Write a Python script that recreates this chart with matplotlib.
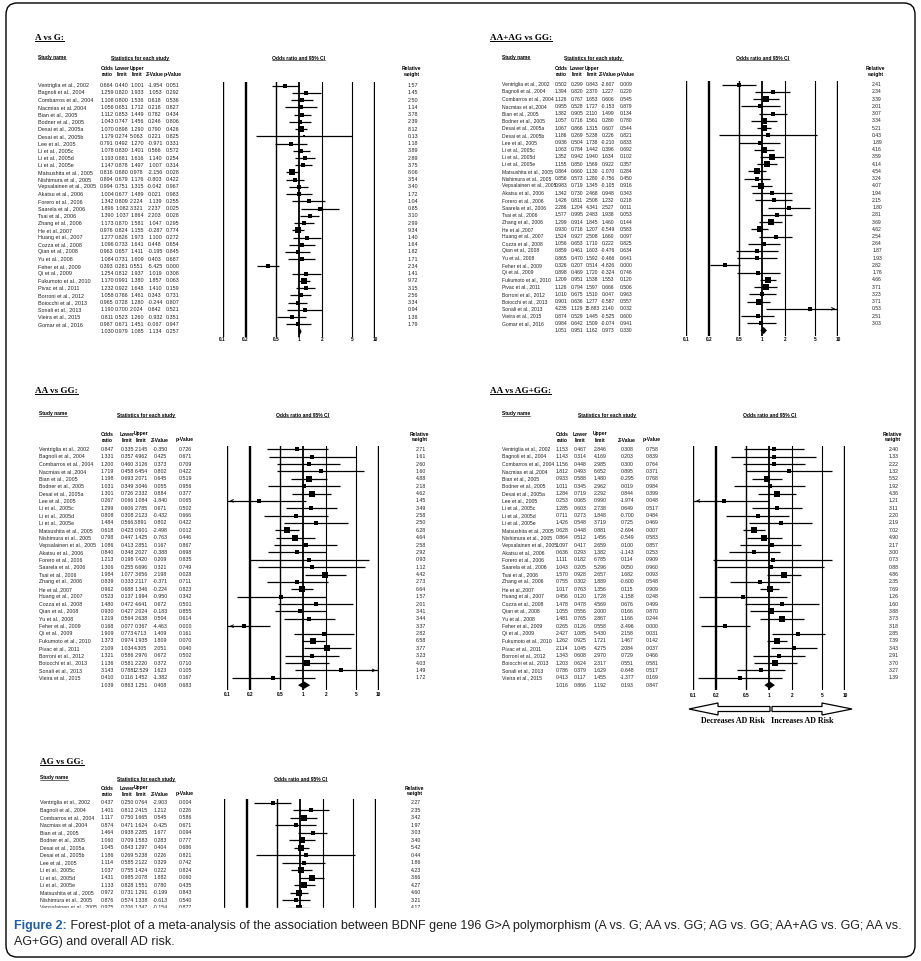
import numpy as np
import matplotlib.pyplot as plt
from matplotlib.patches import FancyBboxPatch, Polygon
from matplotlib.lines import Line2D
from matplotlib.transforms import blended_transform_factory

plt.rcParams['font.family'] = ['Liberation Sans', 'DejaVu Sans']

W, H = 921, 961

# ---- data ----
all_names = ["Ventriglia et al., 2002", "Bagnoli et al., 2004", "Combarros et al., 2004",
             "Nacmias et al.,2004", "Bian et al., 2005", "Bodner et al., 2005",
             "Desai et al., 2005a", "Desai et al., 2005b", "Lee et al., 2005",
             "Li et al., 2005c", "Li et al., 2005d", "Li et al., 2005e",
             "Matsushita et al., 2005", "Nishimura et al., 2005", "Vepsalainen et al., 2005",
             "Akatsu et al., 2006", "Forero et al., 2006", "Saarela et al., 2006",
             "Tsai et al., 2006", "Zhang et al., 2006", "He et al.,2007",
             "Huang et al., 2007", "Cozza et al., 2008", "Qian et al., 2008",
             "Yu et al., 2008", "Feher et al., 2009", "Qi et al., 2009",
             "Fukumoto et al., 2010", "Pivac et al., 2011", "Borroni et al., 2012",
             "Boiocchi et al., 2013", "Sonali et al., 2013", "Vieira et al., 2015",
             "Gomar et al., 2016"]
names_32 = [s for s in all_names if s not in ("Desai et al., 2005b", "Gomar et al., 2016")]
names_ag = all_names[:15]

# A vs G
a_or = [0.664, 1.259, 1.108, 1.056, 1.112, 1.043, 1.070, 1.179, 0.791, 1.078, 1.193, 1.147,
        0.816, 0.894, 0.994, 1.004, 1.342, 1.896, 1.390, 1.173, 0.976, 1.277, 1.096, 0.963,
        1.084, 0.393, 1.254, 1.170, 1.232, 1.058, 0.965, 1.190, 0.811, 0.987]
a_lo = [0.440, 0.820, 0.800, 0.651, 0.853, 0.747, 0.898, 0.274, 0.492, 0.830, 0.881, 0.878,
        0.680, 0.679, 0.751, 0.677, 0.809, 1.082, 1.037, 0.870, 0.824, 0.826, 0.733, 0.657,
        0.731, 0.281, 0.812, 0.991, 0.922, 0.766, 0.728, 0.700, 0.523, 0.671]
a_hi = [1.001, 1.933, 1.536, 1.712, 1.449, 1.456, 1.290, 5.063, 1.270, 1.401, 1.616, 1.497,
        0.978, 1.176, 1.315, 1.489, 2.224, 3.321, 1.864, 1.581, 1.155, 1.973, 1.641, 1.411,
        1.609, 0.551, 1.937, 1.380, 1.648, 1.461, 1.280, 2.024, 1.260, 1.451]
a_z = [-1.954, 1.053, 0.618, 0.218, 0.782, 0.246, 0.790, 0.221, -0.971, 0.566, 1.140, 1.007,
       -2.156, -0.803, -0.042, 0.021, 1.139, 2.237, 2.203, 1.047, -0.287, 1.100, 0.448, -0.195,
       0.403, -5.425, 1.019, 1.857, 1.410, 0.343, -0.244, 0.642, -0.932, -0.067]
a_p = [0.051, 0.292, 0.536, 0.827, 0.434, 0.806, 0.426, 0.825, 0.331, 0.572, 0.254, 0.314,
       0.028, 0.422, 0.967, 0.983, 0.255, 0.025, 0.028, 0.295, 0.774, 0.272, 0.654, 0.845,
       0.687, 0.000, 0.308, 0.063, 0.159, 0.731, 0.807, 0.521, 0.351, 0.947]
a_w = [1.57, 1.45, 2.50, 1.14, 3.78, 2.39, 8.12, 0.13, 1.18, 3.89, 2.89, 3.75, 8.06, 3.54,
       3.40, 1.72, 1.04, 0.85, 3.10, 2.99, 9.34, 1.40, 1.64, 1.82, 1.71, 2.34, 1.41, 9.72,
       3.15, 2.56, 3.34, 0.94, 1.38, 1.79]
a_sum = [1.030, 0.979, 1.085, 1.134, 0.257]

# AA+AG vs GG
dom_or = [0.502, 1.394, 1.126, 0.955, 1.382, 1.057, 1.067, 1.186, 0.936, 1.063, 1.352, 1.155,
          0.864, 0.856, 0.983, 1.342, 1.426, 2.286, 1.577, 1.299, 0.930, 1.524, 1.056, 0.859,
          0.865, 0.326, 0.898, 1.209, 1.126, 1.010, 0.901, 4.235, 0.874, 0.984]
dom_lo = [0.299, 0.820, 0.767, 0.528, 0.905, 0.716, 0.866, 0.269, 0.504, 0.784, 0.942, 0.850,
          0.660, 0.573, 0.719, 0.730, 0.811, 1.204, 0.995, 0.914, 0.716, 0.927, 0.653, 0.461,
          0.470, 0.207, 0.469, 0.951, 0.794, 0.675, 0.636, 1.129, 0.529, 0.642]
dom_hi = [0.843, 2.370, 1.653, 1.727, 2.110, 1.561, 1.315, 5.238, 1.738, 1.442, 1.940, 1.569,
          1.130, 1.280, 1.345, 2.468, 2.508, 4.341, 2.483, 1.845, 1.207, 2.508, 1.710, 1.603,
          1.592, 0.514, 1.720, 1.538, 1.597, 1.510, 1.277, 15.883, 1.445, 1.509]
dom_z = [-2.607, 1.227, 0.606, -0.153, 1.499, 0.280, 0.607, 0.226, -0.210, 0.396, 1.634, 0.922,
         -1.070, -0.756, -0.105, 0.948, 1.232, 2.527, 1.938, 1.460, -0.549, 1.660, 0.222, -0.476,
         -0.466, -4.826, -0.324, 1.553, 0.666, 0.047, -0.587, 2.140, -0.525, -0.074]
dom_p = [0.009, 0.220, 0.545, 0.879, 0.134, 0.780, 0.544, 0.821, 0.833, 0.692, 0.102, 0.357,
         0.284, 0.450, 0.916, 0.343, 0.218, 0.011, 0.053, 0.144, 0.583, 0.097, 0.825, 0.634,
         0.641, 0.000, 0.746, 0.120, 0.506, 0.963, 0.557, 0.032, 0.600, 0.941]
dom_w = [2.41, 2.34, 3.39, 2.01, 3.07, 3.34, 5.21, 0.43, 1.89, 4.16, 3.59, 4.14, 4.54, 3.24,
         4.07, 1.94, 2.15, 1.80, 2.81, 3.69, 4.62, 2.54, 2.64, 1.87, 1.93, 2.82, 1.76, 4.66,
         3.71, 3.23, 3.71, 0.53, 2.51, 3.03]
dom_sum = [1.051, 0.951, 1.162, 0.973, 0.330]

# AA vs GG
hom_or = [0.847, 1.331, 1.200, 1.719, 1.198, 1.031, 1.301, 0.267, 1.299, 0.808, 1.484, 0.618,
          0.798, 1.086, 0.840, 1.213, 1.306, 1.984, 0.839, 0.962, 0.523, 1.480, 0.930, 1.219,
          0.168, 1.909, 1.373, 2.109, 1.321, 1.136, 3.143, 0.410]
hom_lo = [0.335, 0.357, 0.460, 0.458, 0.693, 0.349, 0.726, 0.066, 0.606, 0.308, 0.566, 0.423,
          0.447, 0.413, 0.348, 0.198, 0.255, 1.077, 0.333, 0.688, 0.137, 0.472, 0.427, 0.564,
          0.077, 0.773, 0.974, 1.034, 0.586, 0.581, 0.788, 0.116]
hom_hi = [2.145, 4.962, 3.126, 6.454, 2.071, 3.046, 2.332, 1.084, 2.785, 2.123, 3.891, 0.901,
          1.425, 2.851, 2.027, 7.420, 6.696, 3.656, 2.117, 1.346, 1.994, 4.641, 2.024, 2.638,
          0.367, 4.713, 1.935, 4.305, 2.976, 2.220, 12.529, 1.452]
hom_z = [-0.350, 0.425, 0.373, 0.802, 0.645, 0.055, 0.884, -1.840, 0.671, -0.432, 0.802, -2.498,
         -0.763, 0.167, -0.388, 0.209, 0.321, 2.198, -0.371, -0.224, -0.950, 0.672, -0.183, 0.504,
         -4.463, 1.409, 1.809, 2.051, 0.672, 0.372, 1.623, -1.382]
hom_p = [0.726, 0.671, 0.709, 0.422, 0.519, 0.956, 0.377, 0.065, 0.502, 0.666, 0.422, 0.012,
         0.446, 0.867, 0.698, 0.835, 0.749, 0.028, 0.711, 0.823, 0.342, 0.501, 0.855, 0.614,
         0.000, 0.161, 0.070, 0.040, 0.502, 0.710, 0.105, 0.167]
hom_w = [2.71, 1.61, 2.60, 1.60, 4.88, 2.18, 4.62, 1.45, 3.49, 2.58, 2.50, 6.28, 4.64, 2.58,
         2.92, 0.93, 1.12, 4.42, 2.73, 6.64, 1.57, 2.01, 3.41, 3.44, 3.37, 2.82, 6.58, 3.77,
         3.23, 4.03, 1.49, 1.72]
hom_sum = [1.039, 0.863, 1.251, 0.408, 0.683]

# AA vs AG+GG
rec_or = [1.153, 1.143, 1.156, 1.812, 0.933, 1.011, 1.284, 0.253, 1.285, 0.711, 1.426, 0.628,
          0.864, 1.097, 0.636, 1.111, 1.043, 1.570, 0.755, 1.017, 0.456, 1.478, 1.055, 1.481,
          0.265, 2.427, 1.262, 2.114, 1.343, 1.203, 0.786, 0.413]
rec_lo = [0.467, 0.314, 0.448, 0.493, 0.588, 0.345, 0.719, 0.065, 0.603, 0.273, 0.548, 0.448,
          0.512, 0.417, 0.293, 0.182, 0.205, 0.928, 0.302, 0.763, 0.120, 0.478, 0.556, 0.765,
          0.126, 1.085, 0.925, 1.045, 0.608, 0.624, 0.379, 0.117]
rec_hi = [2.846, 4.169, 2.985, 6.652, 1.480, 2.962, 2.292, 0.990, 2.738, 1.848, 3.719, 0.881,
          1.456, 2.659, 1.382, 6.785, 5.296, 2.657, 1.889, 1.356, 1.728, 4.569, 2.000, 2.867,
          0.558, 5.430, 1.721, 4.275, 2.970, 2.317, 1.629, 1.455]
rec_z = [0.308, 0.203, 0.300, 0.895, -0.295, 0.019, 0.844, -1.974, 0.649, -0.700, 0.725, -2.694,
         -0.549, 0.100, -1.143, 0.114, 0.050, 1.682, -0.600, 0.115, -1.158, 0.676, 0.166, 1.166,
         -3.496, 2.158, 1.467, 2.084, 0.729, 0.551, -0.648, -1.377]
rec_p = [0.758, 0.839, 0.764, 0.371, 0.768, 0.984, 0.399, 0.048, 0.517, 0.484, 0.469, 0.007,
         0.583, 0.857, 0.253, 0.909, 0.960, 0.093, 0.548, 0.909, 0.248, 0.499, 0.870, 0.244,
         0.000, 0.031, 0.142, 0.037, 0.466, 0.581, 0.517, 0.169]
rec_w = [2.40, 1.33, 2.22, 1.32, 5.52, 1.92, 4.36, 1.21, 3.11, 2.20, 2.19, 7.02, 4.90, 2.17,
         3.00, 0.73, 0.88, 4.86, 2.35, 7.69, 1.26, 1.60, 3.88, 3.73, 3.18, 2.85, 7.39, 3.43,
         2.91, 3.70, 3.27, 1.39]
rec_sum = [1.016, 0.866, 1.192, 0.193, 0.847]

# AG vs GG (cut off by the caption)
het_or = [0.437, 1.401, 1.117, 0.874, 1.464, 1.060, 1.045, 1.186, 1.114, 1.037, 1.431, 1.133,
          0.972, 0.876, 0.975]
het_lo = [0.250, 0.812, 0.750, 0.471, 0.938, 0.709, 0.843, 0.269, 0.585, 0.755, 0.985, 0.828,
          0.731, 0.574, 0.706]
het_hi = [0.764, 2.415, 1.665, 1.624, 2.285, 1.583, 1.297, 5.238, 2.122, 1.424, 2.078, 1.551,
          1.291, 1.338, 1.347]
het_z = [-2.903, 1.212, 0.545, -0.425, 1.677, 0.283, 0.404, 0.226, 0.329, 0.222, 1.882, 0.780,
         -0.199, -0.613, -0.154]
het_p = [0.004, 0.226, 0.586, 0.671, 0.094, 0.777, 0.686, 0.821, 0.742, 0.824, 0.060, 0.435,
         0.843, 0.540, 0.877]
het_w = [2.27, 2.35, 3.42, 1.97, 3.03, 3.40, 5.42, 0.44, 1.86, 4.23, 3.66, 4.27, 4.60, 3.21, 4.17]

ticks = [0.1, 0.2, 0.5, 1, 2, 5, 10]
tick_labels = ["0.1", "0.2", "0.5", "1", "2", "5", "10"]
tick_lw = [1.7, 1.7, 1.0, 1.3, 0.8, 0.8, 1.7]

fig = plt.figure(figsize=(W / 100, H / 100), dpi=100)


def fx(x):
    return x / W


def fy(y):
    return 1 - y / H


def underline(t, lw=0.6):
    r = fig.canvas.get_renderer()
    bb = t.get_window_extent(r).transformed(fig.transFigure.inverted())
    fig.add_artist(Line2D([bb.x0, bb.x1], [bb.y0 + 0.15 * bb.height] * 2,
                          color='k', lw=lw, transform=fig.transFigure))


def forest(title, names, orr, lo, hi, zv, pv, wt, summ, L):
    FS = L['fs']
    n = len(names)
    y0, dy = L['y0'], L['dy']
    top = y0 - 0.45 * dy
    bottom = L.get('cut', y0 + (n + 0.7) * dy)
    rb = (bottom - y0) / dy
    ax = fig.add_axes([fx(L['x01']), fy(bottom), fx(L['x10']) - fx(L['x01']), (bottom - top) / H])
    ax.set_xscale('log')
    ax.set_xlim(0.1, 10)
    ax.set_ylim(rb, -0.45)
    ax.axis('off')
    for t, lw in zip(ticks, tick_lw):
        ax.axvline(t, color='k', lw=lw)
    for i in range(n):
        a, b = max(lo[i], 0.1), min(hi[i], 10)
        ax.plot([a, b], [i, i], color='k', lw=0.9, solid_capstyle='butt')
        if lo[i] < 0.1:
            ax.annotate('', xy=(0.1, i), xytext=(0.13, i),
                        arrowprops=dict(arrowstyle='->', lw=0.6, mutation_scale=5))
        if hi[i] > 10:
            ax.annotate('', xy=(10, i), xytext=(7.7, i),
                        arrowprops=dict(arrowstyle='->', lw=0.6, mutation_scale=5))
        side = L['base'] + L['k'] * np.sqrt(wt[i])
        ax.plot(orr[i], i, marker='s', color='k', ms=side * 0.72, mew=0)
    if summ is not None:
        ax.fill([summ[1], summ[0], summ[2], summ[0]], [n, n - 0.5, n, n + 0.5], color='k', lw=0)
        for t, lab in zip(ticks, tick_labels):
            ax.text(t, n + L['tk'], lab, ha='center', va='center', fontsize=3.4,
                    weight='bold', clip_on=False)

    tr = blended_transform_factory(fig.transFigure, ax.transData)
    c = L['cols']
    rows = list(zip(orr, lo, hi, zv, pv))
    if summ is not None:
        rows.append(tuple(summ))
    for i, row in enumerate(rows):
        if i < n:
            ax.text(fx(L['xn']), i, names[i], transform=tr, ha='left', va='center',
                    fontsize=FS, clip_on=False, color='#222222')
            ax.text(fx(L['wx']), i, '%.2f' % wt[i], transform=tr, ha='center', va='center',
                    fontsize=FS, clip_on=False, color='#222222')
        for j, v in enumerate(row):
            ax.text(fx(c[j]), i, '%.3f' % v, transform=tr, ha='center', va='center',
                    fontsize=FS, clip_on=False, color='#222222')

    # headers
    t = fig.text(fx(L['tx']), fy(L['ty']), title, family='Liberation Serif', weight='bold',
                 fontsize=6.6, ha='left', va='center')
    underline(t, 0.7)
    hy = L['hy']
    t = fig.text(fx(L['xn']), fy(hy), 'Study name', fontsize=3.6, weight='bold', ha='left', va='center')
    underline(t, 0.4)
    t = fig.text(fx((c[0] + c[4]) / 2), fy(hy + 1.5), 'Statistics for each study', fontsize=3.6,
                 weight='bold', ha='center', va='center')
    underline(t, 0.4)
    t = fig.text(fx((L['x01'] + L['x10']) / 2), fy(hy + 1.5), 'Odds ratio and 95% CI', fontsize=3.6,
                 weight='bold', ha='center', va='center')
    underline(t, 0.4)
    h1, h2 = hy + L['hg'], hy + L['hg'] + 6
    for x, a, b in [(c[0], 'Odds', 'ratio'), (c[1], 'Lower', 'limit'), (c[2], 'Upper', 'limit'),
                    (L['wx'] - 2, 'Relative', 'weight')]:
        fig.text(fx(x), fy(h1), a, fontsize=3.6, weight='bold', ha='center', va='center')
        fig.text(fx(x), fy(h2), b, fontsize=3.6, weight='bold', ha='center', va='center')
    fig.text(fx(c[3]), fy(h2), 'Z-Value', fontsize=3.6, weight='bold', ha='center', va='center')
    fig.text(fx(c[4]), fy(h2), 'p-Value', fontsize=3.6, weight='bold', ha='center', va='center')
    return ax


forest('A vs G:', all_names, a_or, a_lo, a_hi, a_z, a_p, a_w, a_sum,
       dict(y0=85.7, dy=7.23, x01=222.7, x10=375, xn=38, cols=[107, 122, 137, 155, 173], wx=413,
            tx=35, ty=38, hy=57, hg=11.3, base=2.0, k=1.3, tk=1.1, fs=3.85))
forest('AA+AG vs GG:', all_names, dom_or, dom_lo, dom_hi, dom_z, dom_p, dom_w, dom_sum,
       dict(y0=84.7, dy=7.23, x01=686, x10=838, xn=502, cols=[561, 577, 592, 608, 626], wx=877,
            tx=490, ty=38, hy=57, hg=11.3, base=3.2, k=1.0, tk=1.2, fs=3.6))
forest('AA vs GG:', names_32, hom_or, hom_lo, hom_hi, hom_z, hom_p, hom_w, hom_sum,
       dict(y0=449.3, dy=7.37, x01=227, x10=378.7, xn=39, cols=[107.5, 127, 141, 160, 185], wx=421,
            tx=35, ty=391, hy=414, hg=20, base=2.8, k=1.15, tk=1.25, fs=3.8))
forest('AA vs AG+GG:', names_32, rec_or, rec_lo, rec_hi, rec_z, rec_p, rec_w, rec_sum,
       dict(y0=449.3, dy=7.37, x01=693.3, x10=845, xn=502, cols=[562, 580, 600, 627, 652], wx=894,
            tx=490, ty=391, hy=414, hg=20, base=2.8, k=1.15, tk=1.4, fs=3.7))
forest('AG vs GG:', names_ag, het_or, het_lo, het_hi, het_z, het_p, het_w, None,
       dict(y0=802.7, dy=7.5, x01=223.7, x10=376.3, xn=40, cols=[107.5, 127, 141, 160, 185], wx=416,
            tx=40, ty=762, hy=778, hg=10, base=3.2, k=1.0, tk=1.2, cut=908, fs=3.8))

# hide the part of the AG vs GG panel that is covered by the caption area
fig.add_artist(plt.Rectangle((fx(20), fy(916)), fx(460), 8 / H, transform=fig.transFigure,
                             color='white', zorder=20))

# risk arrows under AA vs AG+GG
ay = 709
left = [(689, ay), (718, ay - 6), (718, ay - 2.5), (770, ay - 2.5), (770, ay + 2.5),
        (718, ay + 2.5), (718, ay + 6)]
right = [(852, ay), (822, ay - 6), (822, ay - 2.5), (772, ay - 2.5), (772, ay + 2.5),
         (822, ay + 2.5), (822, ay + 6)]
for pts in (left, right):
    fig.add_artist(Polygon([(fx(x), fy(y)) for x, y in pts], closed=True, facecolor='white',
                           edgecolor='k', lw=0.9, transform=fig.transFigure))
fig.text(fx(733), fy(721), 'Decreases AD Risk', family='Liberation Serif', weight='bold',
         fontsize=5.8, ha='center', va='center')
fig.text(fx(802), fy(721), 'Increases AD Risk', family='Liberation Serif', weight='bold',
         fontsize=5.8, ha='center', va='center')

# caption
CS = 9.0
r = fig.canvas.get_renderer()
t = fig.text(fx(14), fy(926), 'Figure 2:', color='#1f5fa8', weight='bold', fontsize=CS,
             ha='left', va='center')
bb = t.get_window_extent(r).transformed(fig.transFigure.inverted())
fig.text(bb.x1, fy(926), ' Forest-plot of a meta-analysis of the association between BDNF gene 196 '
         'G>A polymorphism (A vs. G; AA vs. GG; AG vs. GG; AA+AG vs. GG; AA vs.',
         fontsize=CS, ha='left', va='center', color='#222222')
fig.text(fx(14), fy(942), 'AG+GG) and overall AD risk.', fontsize=CS, ha='left', va='center',
         color='#222222')

# outer rounded frame
fig.add_artist(FancyBboxPatch((fx(6), fy(957)), fx(915) - fx(6), (957 - 3) / H,
                              boxstyle='round,pad=0,rounding_size=0.012',
                              transform=fig.transFigure, fill=False, lw=1.0, ec='k'))

fig.savefig('out.png', dpi=100)
